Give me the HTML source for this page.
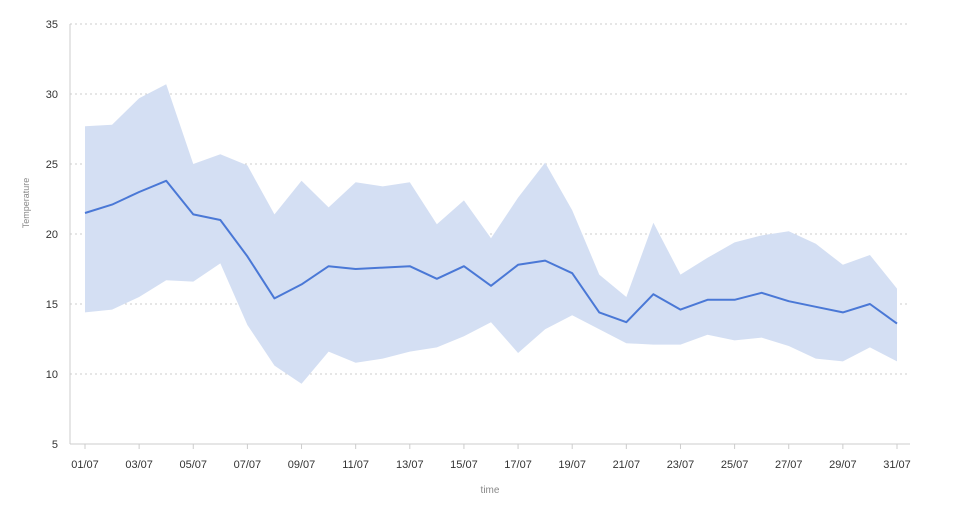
<!DOCTYPE html>
<html><head><meta charset="utf-8"><style>
body{margin:0;background:#fff;font-family:"Liberation Sans",sans-serif}
svg text{font-family:"Liberation Sans",sans-serif}
</style></head><body>
<svg id="chart" width="980" height="500" xmlns="http://www.w3.org/2000/svg">
<g id="grid"></g>
<path id="band" fill="#d4dff3" stroke="none"></path>
<path id="line" fill="none" stroke="#4a78d6" stroke-width="2" stroke-linejoin="round"></path>
<g id="axes"></g>
<text x="29" y="203" transform="rotate(-90 29 203)" text-anchor="middle" font-size="9" fill="#888">Temperature</text>
<text x="490" y="493" text-anchor="middle" font-size="10" fill="#888">time</text>
</svg>
<script>
const days = Array.from({length:31},(_,i)=>String(i+1).padStart(2,'0')+'/07');
const meanValues=[21.5,22.1,23.0,23.8,21.4,21.0,18.4,15.4,16.4,17.7,17.5,17.6,17.7,16.8,17.7,16.3,17.8,18.1,17.2,14.4,13.7,15.7,14.6,15.3,15.3,15.8,15.2,14.8,14.4,15.0,13.6];
const upperValues=[27.7,27.8,29.7,30.7,25.0,25.7,24.9,21.4,23.8,21.9,23.7,23.4,23.7,20.7,22.4,19.7,22.6,25.1,21.7,17.1,15.5,20.8,17.1,18.3,19.4,19.9,20.2,19.3,17.8,18.5,16.1];
const lowerValues=[14.4,14.6,15.5,16.7,16.6,17.9,13.5,10.6,9.3,11.6,10.8,11.1,11.6,11.9,12.7,13.7,11.5,13.2,14.2,13.2,12.2,12.1,12.1,12.8,12.4,12.6,12.0,11.1,10.9,11.9,10.9];
const yTicks=[5,10,15,20,25,30,35];
const NS='http://www.w3.org/2000/svg';
const x=i=>85+i*(897-85)/30;
const y=v=>444-(v-5)*14;
function mk(tag,attrs,parent){const e=document.createElementNS(NS,tag);for(const k in attrs)e.setAttribute(k,attrs[k]);parent.appendChild(e);return e;}
const grid=document.getElementById('grid'),axes=document.getElementById('axes');
yTicks.forEach(t=>{
  if(t>5){const l=mk('line',{x1:70,x2:910,y1:y(t),y2:y(t),stroke:'#ccc','stroke-dasharray':'2,3'},grid);
  
  }
  const tx=mk('text',{x:58,y:y(t)+4,'text-anchor':'end','font-size':11,fill:'#333'},axes);tx.textContent=t;
  
  
});
const ya=mk('line',{x1:70,x2:70,y1:24,y2:444,stroke:'#ccc'},axes);


const xa=mk('line',{x1:70,x2:910,y1:444,y2:444,stroke:'#ccc'},axes);


days.forEach((d,i)=>{
  if(i%2===0){
    const tk=mk('line',{x1:x(i),x2:x(i),y1:444,y2:449,stroke:'#ccc'},axes);
    
    
    const tx=mk('text',{x:x(i),y:468,'text-anchor':'middle','font-size':11,fill:'#333'},axes);tx.textContent=d;
    
    
  }
});
let bp='M'+upperValues.map((v,i)=>x(i)+','+y(v)).join('L');
for(let i=lowerValues.length-1;i>=0;i--)bp+='L'+x(i)+','+y(lowerValues[i]);
document.getElementById('band').setAttribute('d',bp+'Z');
document.getElementById('line').setAttribute('d','M'+meanValues.map((v,i)=>x(i)+','+y(v)).join('L'));
</script>
</body></html>
